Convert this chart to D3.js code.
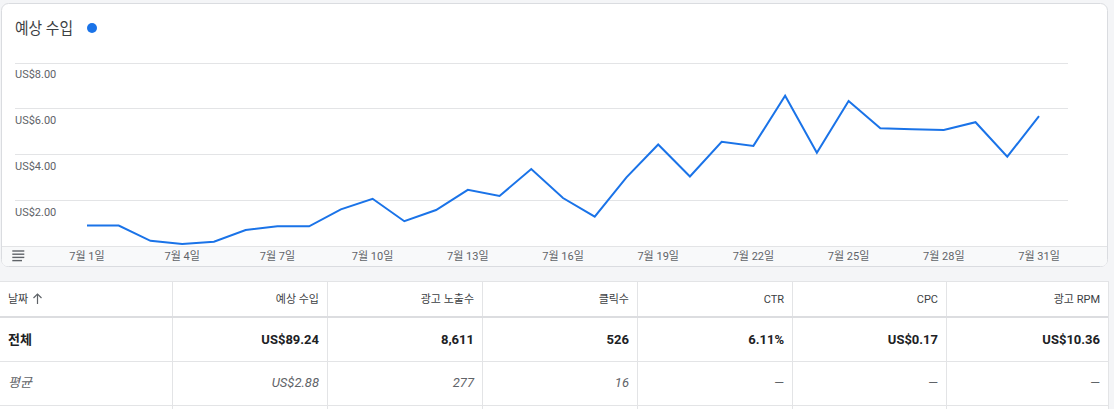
<!DOCTYPE html>
<html><head><meta charset="utf-8">
<script src="https://cdn.jsdelivr.net/npm/d3@7"></script>
<style>
html,body{margin:0;padding:0;background:#f4f5f7;}
svg{display:block;font-family:Roboto,"Noto Sans CJK KR",sans-serif;}
</style></head>
<body><svg id="c" width="1114" height="409"></svg>
<script>
const title = "예상 수입";
const days = [1,2,3,4,5,6,7,8,9,10,11,12,13,14,15,16,17,18,19,20,21,22,23,24,25,26,27,28,29,30,31];
const revenue = [0.91,0.90,0.24,0.10,0.20,0.71,0.87,0.87,1.61,2.07,1.09,1.58,2.46,2.19,3.36,2.10,1.29,3.00,4.43,3.04,4.55,4.37,6.55,4.07,6.32,5.14,5.10,5.06,5.40,3.90,5.67];
const yTicks = [2,4,6,8];
const xTickDays = [1,4,7,10,13,16,19,22,25,28,31];
const headers = ["날짜","예상 수입","광고 노출수","클릭수","CTR","CPC","광고 RPM"];
const totalRow = ["전체","US$89.24","8,611","526","6.11%","US$0.17","US$10.36"];
const avgRow = ["평균","US$2.88","277","16","—","—","—"];

const svg = d3.select("#c");
const blue = "#1a73e8";

// card
svg.append("rect").attr("x",1.5).attr("y",3.5).attr("width",1106).attr("height",263)
  .attr("rx",7).attr("fill","#fff").attr("stroke","#dadce0");
// x-axis band
const bandClip = svg.append("clipPath").attr("id","bc");
bandClip.append("rect").attr("x",1.5).attr("y",3.5).attr("width",1106).attr("height",263).attr("rx",7);
svg.append("rect").attr("x",2).attr("y",246).attr("width",1105).attr("height",20)
  .attr("fill","#f8f9fa").attr("clip-path","url(#bc)");
svg.append("line").attr("x1",2).attr("x2",1107).attr("y1",246.5).attr("y2",246.5).attr("stroke","#e3e4e6");

// title
svg.append("text").attr("x",15).attr("y",34).attr("font-size",16).attr("fill","#3c4043")
  .attr("textLength",58).attr("lengthAdjust","spacingAndGlyphs").text(title);
svg.append("circle").attr("cx",92).attr("cy",28).attr("r",5).attr("fill",blue);

const x = d3.scalePoint().domain(days).range([87,1039]);
const y = d3.scaleLinear().domain([0,8]).range([246.3,62.5]);

// grid
const g = svg.append("g");
g.selectAll("line.grid").data(yTicks).join("line")
  .attr("x1",15).attr("x2",1068)
  .attr("y1",d=>Math.round(y(d))+0.5).attr("y2",d=>Math.round(y(d))+0.5)
  .attr("stroke","#e3e4e6");
g.selectAll("text.yl").data(yTicks).join("text")
  .attr("x",15).attr("y",d=>y(d)+15.5).attr("font-size",11).attr("fill","#5f6368")
  .text(d=>"US$"+d3.format(".2f")(d));

// x labels
svg.append("g").selectAll("text").data(xTickDays).join("text")
  .attr("x",d=>x(d)).attr("y",260).attr("text-anchor","middle")
  .attr("font-size",11).attr("fill","#5f6368").text(d=>"7월 "+d+"일");

// hamburger icon
const hb = svg.append("g").attr("stroke","#5f6368").attr("stroke-width",1.4);
[[251,24.3],[254.2,24.3],[257.4,24.3],[260.6,22]].forEach(([yy,x2])=>{
  hb.append("line").attr("x1",12.3).attr("x2",x2).attr("y1",yy).attr("y2",yy);
});

// line
svg.append("path").datum(days.map((d,i)=>[d,revenue[i]]))
  .attr("fill","none").attr("stroke",blue).attr("stroke-width",2).attr("stroke-linejoin","miter")
  .attr("d",d3.line().x(d=>x(d[0])).y(d=>y(d[1])));

// table
const colEdges = [0,172,327,482,637,792,946,1108];
const t = svg.append("g");
t.append("rect").attr("x",0).attr("y",281).attr("width",1108).attr("height",128).attr("fill","#fff");
t.append("line").attr("x1",0).attr("x2",1108).attr("y1",281.5).attr("y2",281.5).attr("stroke","#e3e4e6");
colEdges.slice(1).forEach(cx=>{
  t.append("line").attr("x1",cx+0.5).attr("x2",cx+0.5).attr("y1",281).attr("y2",409).attr("stroke","#e3e4e6");
});
t.append("line").attr("x1",0).attr("x2",1108).attr("y1",317).attr("y2",317).attr("stroke","#dcdde0").attr("stroke-width",2);
[361.5,405.5].forEach(yy=>t.append("line").attr("x1",0).attr("x2",1108).attr("y1",yy).attr("y2",yy).attr("stroke","#e3e4e6"));

function rowText(vals, base, opts){
  vals.forEach((v,i)=>{
    const tx = t.append("text").attr("y",base).attr("font-size",opts.size).attr("fill",opts.color)
      .attr("font-weight",opts.weight||"normal").attr("font-style",opts.style||"normal");
    if(i===0){ tx.attr("x",8).attr("text-anchor","start"); }
    else { tx.attr("x",colEdges[i+1]-8).attr("text-anchor","end"); }
    tx.text(v);
  });
}
rowText(headers, 303, {size:11,color:"#3c4043"});
rowText(totalRow, 344, {size:13,color:"#202124",weight:"bold"});
rowText(avgRow, 387, {size:13,color:"#5f6368",style:"italic"});

// sort arrow
const ar = t.append("g").attr("stroke","#5f6368").attr("stroke-width",1.2).attr("fill","none");
ar.append("line").attr("x1",37.5).attr("x2",37.5).attr("y1",294).attr("y2",304);
ar.append("path").attr("d","M33.5,298 L37.5,294 L41.5,298");
</script>
</body></html>
